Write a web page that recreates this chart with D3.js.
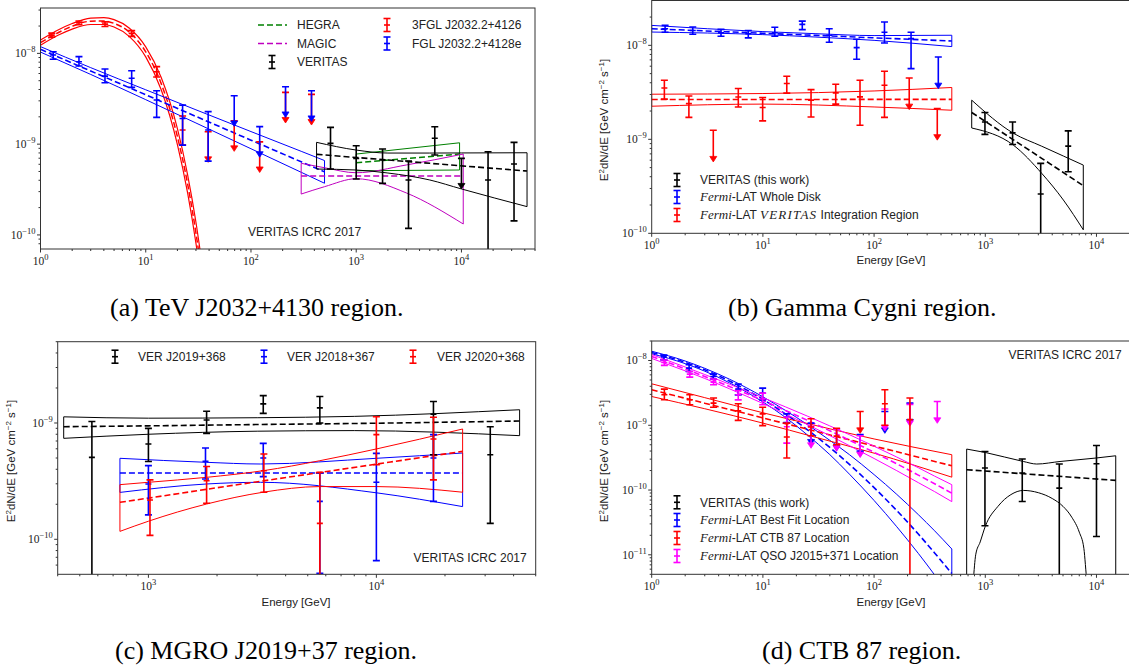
<!DOCTYPE html>
<html>
<head>
<meta charset="utf-8">
<script src="https://cdn.jsdelivr.net/npm/d3@7"></script>
<style>
    body { margin: 0; background: #ffffff; }
    svg  { display: block; }
    .tick_label { font-family: "Liberation Serif", "DejaVu Serif", serif; font-size: 11.5px; fill: #222; }
    .sans       { font-family: "Liberation Sans", Arial, sans-serif; fill: #222; }
    .caption    { font-family: "Liberation Serif", serif; font-size: 26px; fill: #000; }
</style>
</head>
<body>
<svg id="figure" width="1129" height="671"></svg>
<script>
// points are [energy GeV, E2dN/dE, low, high], upper limits are [energy, value]

// ---------- (a) TeV J2032+4130 region ----------
const a3fglPoints = [[1.28,1.59e-8,1.51e-8,1.67e-8],[2.32,2.17e-8,2.07e-8,2.27e-8],[4.1,2.10e-8,1.98e-8,2.22e-8],
                     [7.35,1.66e-8,1.54e-8,1.78e-8],[12.7,6.27e-9,5.5e-9,7.15e-9],[22.4,1.43e-9,9.8e-10,2.04e-9]];
const a3fglLimits = [[39.2,1.37e-9],[69.3,1.81e-9],[121,1.06e-9],[213,3.72e-9],[376,3.53e-9]];
const aFglPoints  = [[1.32,9.58e-9,8.6e-9,1.04e-8],[2.32,8.08e-9,7.25e-9,9.2e-9],[4.1,5.62e-9,4.74e-9,6.72e-9],
                     [7.35,5.31e-9,4.22e-9,6.43e-9],[12.7,3.06e-9,1.97e-9,3.88e-9],[22.4,1.92e-9,9.75e-10,2.69e-9],
                     [39.2,1.43e-9,6.5e-10,2.28e-9]];
const aFglLimits  = [[69.3,3.41e-9],[121,1.56e-9],[213,4.28e-9],[376,3.87e-9]];
const aVerPoints  = [[570,1.02e-9,5.32e-10,1.53e-9],[1000,6.98e-10,4.13e-10,9.6e-10],[1780,6.68e-10,3.7e-10,8.83e-10],
                     [3140,4.03e-10,1.18e-10,6.52e-10],[5580,1.16e-9,7.59e-10,1.556e-9],[17900,4.03e-10,1e-12,8.24e-10],
                     [31600,6.04e-10,1.43e-10,1.047e-9]];
const aVerLimits  = [[10000,6.98e-10]];

const a3fglBandE  = [1, 1.5, 2, 3, 4, 5, 7, 10, 14, 20, 25, 30, 35];
const a3fglHi     = [1.40e-8,1.83e-8,2.13e-8,2.44e-8,2.47e-8,2.35e-8,1.89e-8,1.18e-8,5.45e-9,1.48e-9,4.6e-10,1.38e-10,4.0e-11];
const a3fglMid    = [1.31e-8,1.71e-8,1.99e-8,2.26e-8,2.27e-8,2.14e-8,1.71e-8,1.04e-8,4.67e-9,1.21e-9,3.65e-10,1.05e-10,2.96e-11];
const a3fglLo     = [1.23e-8,1.60e-8,1.85e-8,2.08e-8,2.08e-8,1.95e-8,1.53e-8,9.15e-9,4.0e-9,9.9e-10,2.9e-10,8.1e-11,2.2e-11];
const aFglBandE   = [1, 3, 10, 30, 100, 300, 500];
const aFglHi      = [1.186e-8,6.96e-9,3.97e-9,2.39e-9,1.376e-9,8.34e-10,6.6e-10];
const aFglMid     = [1.107e-8,6.39e-9,3.50e-9,2.02e-9,1.107e-9,6.39e-10,4.95e-10];
const aFglLo      = [1.033e-8,5.86e-9,3.09e-9,1.71e-9,8.9e-10,4.9e-10,3.71e-10];
const aHegraE     = [1000, 9600];
const aHegraHi    = [7.78e-10,1.035e-9];
const aHegraMid   = [6.24e-10,7.78e-10];
const aHegraLo    = [5.09e-10,5.19e-10];
const aMagicE     = [300, 500, 1000, 3000, 10400];
const aMagicHi    = [6.15e-10,5.5e-10,4.84e-10,5.9e-10,7.78e-10];
const aMagicMid   = [4.46e-10,4.46e-10,4.46e-10,4.46e-10,4.46e-10];
const aMagicLo    = [2.82e-10,3.4e-10,4.16e-10,2.9e-10,1.32e-10];
const aVerBandE   = [420, 1000, 2000, 5000, 10000, 42000];
const aVerHi      = [1.047e-9,8.61e-10,7.98e-10,7.98e-10,8.0e-10,8.04e-10];
const aVerMid     = [7.73e-10,7.13e-10,6.7e-10,6.15e-10,5.77e-10,5.06e-10];
const aVerLo      = [5.32e-10,5.19e-10,4.81e-10,4.03e-10,3.21e-10,2.05e-10];

// ---------- (b) Gamma Cygni region ----------
const bDiskPoints  = [[1.32,1.50e-8,1.38e-8,1.63e-8],[2.34,1.44e-8,1.31e-8,1.57e-8],[4.2,1.36e-8,1.25e-8,1.48e-8],
                      [7.39,1.33e-8,1.2e-8,1.44e-8],[12.8,1.36e-8,1.25e-8,1.56e-8],[22.6,1.67e-8,1.47e-8,1.81e-8],
                      [39.5,1.28e-8,1.08e-8,1.5e-8],[69.7,9.46e-9,7.1e-9,1.16e-8],[124,1.38e-8,1.06e-8,1.77e-8],
                      [215,1.18e-8,5.65e-9,1.38e-8]];
const bDiskLimits  = [[378,7.52e-9]];
const bRegPoints   = [[1.3,3.52e-9,2.68e-9,4.25e-9],[2.16,2.4e-9,1.71e-9,2.89e-9],[6.01,2.82e-9,2.21e-9,3.47e-9],
                      [9.95,2.18e-9,1.57e-9,2.79e-9],[16.4,3.92e-9,3.1e-9,4.69e-9],[27.1,2.61e-9,1.73e-9,3.38e-9],
                      [45.2,3.12e-9,2.37e-9,3.86e-9],[74.7,2.83e-9,1.41e-9,4.25e-9],[124,3.76e-9,1.71e-9,5.31e-9]];
const bRegLimits   = [[3.58,1.25e-9],[207,4.5e-9],[370,2.13e-9]];
const bVerPoints   = [[993,1.53e-9,1.13e-9,1.93e-9],[1760,1.17e-9,8.8e-10,1.53e-9],[3150,2.62e-10,1e-12,5.55e-10],
                      [5570,8.47e-10,4.52e-10,1.23e-9]];

const bDiskBandE   = [1, 10, 30, 100, 500];
const bDiskHi      = [1.63e-8,1.40e-8,1.33e-8,1.27e-8,1.28e-8];
const bDiskMid     = [1.503e-8,1.344e-8,1.276e-8,1.202e-8,1.112e-8];
const bDiskLo      = [1.385e-8,1.30e-8,1.225e-8,1.13e-8,9.7e-9];
const bRegBandE    = [1, 10, 100, 500];
const bRegHi       = [3.02e-9,3.07e-9,3.27e-9,3.56e-9];
const bRegMid      = [2.65e-9,2.65e-9,2.66e-9,2.66e-9];
const bRegLo       = [2.25e-9,2.37e-9,2.21e-9,2.04e-9];
const bVerBandE    = [755, 1790, 3215, 5040, 7610];
const bVerHi       = [2.61e-9,1.16e-9,8.45e-10,6.64e-10,5.32e-10];
const bVerMid      = [1.93e-9,9.88e-10,6.28e-10,4.43e-10,3.21e-10];
const bVerLo       = [1.32e-9,8.67e-10,4.35e-10,2.26e-10,1.09e-10];

// ---------- (c) MGRO J2019+37 region ----------
const c2019Points  = [[565,5.06e-10,1e-12,1.03e-9],[1000,6.6e-10,4.66e-10,8.99e-10],[1800,1.06e-9,8.14e-10,1.26e-9],
                      [3190,1.46e-9,1.21e-9,1.72e-9],[5650,1.35e-9,1.0e-9,1.69e-9],[17800,1.19e-9,5.34e-10,1.53e-9],
                      [31600,5.34e-10,1.37e-10,9.29e-10]];
const c2018Points  = [[1000,2.99e-10,1.62e-10,4.3e-10],[1780,4.68e-10,3.3e-10,6.1e-10],[3190,5.0e-10,3.46e-10,6.68e-10],
                      [5650,2.12e-10,5.1e-11,3.72e-10],[10000,3.09e-10,6.56e-11,5.48e-10],[17800,5.0e-10,2.12e-10,7.94e-10]];
const c2020Points  = [[1016,2.18e-10,1.08e-10,3.24e-10],[1800,3.19e-10,2.04e-10,4.22e-10],[3210,3.89e-10,2.54e-10,5.42e-10],
                      [5650,1.37e-10,1e-12,3.76e-10],[10000,7.94e-10,4.38e-10,1.13e-9],[17800,7.29e-10,3.24e-10,1.12e-9]];

const c2019BandE   = [425, 1000, 3000, 8000, 42500];
const c2019Hi      = [1.13e-9,1.10e-9,1.11e-9,1.14e-9,1.30e-9];
const c2019Mid     = [9.29e-10,9.45e-10,9.7e-10,9.9e-10,1.04e-9];
const c2019Lo      = [7.38e-10,8.0e-10,8.5e-10,8.6e-10,7.78e-10];
const c2018BandE   = [750, 1800, 3100, 10000, 23900];
const c2018Hi      = [4.97e-10,4.59e-10,4.44e-10,4.97e-10,5.52e-10];
const c2018Mid     = [3.72e-10,3.72e-10,3.72e-10,3.72e-10,3.72e-10];
const c2018Lo      = [2.53e-10,2.99e-10,3.09e-10,2.51e-10,1.91e-10];
const c2020BandE   = [750, 1000, 1800, 3190, 5650, 10000, 23900];
const c2020Hi      = [2.95e-10,3.09e-10,3.41e-10,3.89e-10,4.74e-10,5.98e-10,8.88e-10];
const c2020Mid     = [2.08e-10,2.26e-10,2.69e-10,3.18e-10,3.75e-10,4.43e-10,5.7e-10];
const c2020Lo      = [1.17e-10,1.43e-10,2.01e-10,2.54e-10,2.84e-10,2.84e-10,2.54e-10];

// ---------- (d) CTB 87 region ----------
const dBestPoints  = [[1.29,1.13e-8,1.02e-8,1.21e-8],[2.17,7.63e-9,6.77e-9,8.6e-9],[3.58,5.66e-9,5.17e-9,6.15e-9],
                      [6.0,3.62e-9,2.95e-9,4.32e-9],[9.95,3.14e-9,2.47e-9,3.75e-9],[16.4,1.35e-9,1.1e-9,1.5e-9]];
const dBestLimits  = [[27.1,1.08e-9],[46,8.8e-10],[75,7.2e-10],[125,1.63e-9],[210,2.2e-9]];
const dCtbPoints   = [[1.3,2.96e-9,2.48e-9,3.62e-9],[2.2,2.48e-9,2.07e-9,2.96e-9],[3.6,2.2e-9,1.9e-9,2.63e-9],
                      [6.0,1.67e-9,1.19e-9,2.15e-9],[9.95,1.5e-9,9.86e-10,1.9e-9],[16.4,6.58e-10,3.12e-10,1.08e-9],
                      [27.1,9.4e-10,6.9e-10,1.26e-9],[46,6.8e-10,5.0e-10,9.0e-10],[125,2.15e-9,1.0e-9,3.53e-9],
                      [210,1.22e-9,1e-13,2.63e-9]];
const dCtbLimits   = [[75,1.63e-9]];
const dQsoPoints   = [[1.3,9.31e-9,8.4e-9,1.02e-8],[2.2,6.16e-9,5.54e-9,6.77e-9],[3.6,4.64e-9,4.22e-9,5.17e-9],
                      [6.0,2.96e-9,2.47e-9,3.44e-9],[9.95,2.54e-9,2.07e-9,3.14e-9],[16.4,9.5e-10,5.3e-10,1.34e-9]];
const dQsoLimits   = [[27.1,9.6e-10],[46,8.6e-10],[75,6.89e-10],[125,1.78e-9],[210,2.1e-9],[370,2.33e-9]];
const dVerPoints   = [[993,2.19e-10,2.81e-11,3.94e-10],[2150,1.83e-10,6.67e-11,3.01e-10],[4630,1.07e-10,1e-13,2.52e-10],
                      [10000,2.55e-10,1.92e-11,4.88e-10]];

const dFermiBandE  = [1, 2, 3, 5, 10, 16, 25, 40, 60, 100, 160, 250, 350, 500];
const dBestHi      = [1.39e-8,9.82e-9,7.57e-9,5.15e-9,2.75e-9,1.69e-9,1.03e-9,5.85e-10,3.52e-10,1.73e-10,8.57e-11,4.17e-11,2.35e-11,1.23e-11];
const dBestMid     = [1.33e-8,9.38e-9,7.19e-9,4.83e-9,2.51e-9,1.49e-9,8.59e-10,4.54e-10,2.49e-10,1.09e-10,4.82e-11,2.09e-11,1.07e-11,5.13e-12];
const dBestLo      = [1.27e-8,8.95e-9,6.84e-9,4.53e-9,2.29e-9,1.32e-9,7.14e-10,3.52e-10,1.76e-10,6.9e-11,2.71e-11,1.05e-11,4.9e-12,2.1e-12];
const dQsoHi       = [1.236e-8,7.94e-9,6.07e-9,4.31e-9,2.67e-9,1.92e-9,1.39e-9,9.77e-10,7.16e-10,4.75e-10,3.23e-10,2.21e-10,1.64e-10,1.21e-10];
const dQsoMid      = [1.153e-8,7.41e-9,5.66e-9,3.97e-9,2.41e-9,1.69e-9,1.20e-9,8.22e-10,5.89e-10,3.82e-10,2.54e-10,1.70e-10,1.25e-10,8.93e-11];
const dQsoLo       = [1.076e-8,6.92e-9,5.28e-9,3.66e-9,2.17e-9,1.49e-9,1.03e-9,6.92e-10,4.84e-10,3.07e-10,1.99e-10,1.30e-10,9.46e-11,6.62e-11];
const dCtbBandE    = [1, 3, 10, 30, 100, 500];
const dCtbHi       = [4.37e-9,2.67e-9,1.56e-9,9.9e-10,6.15e-10,3.51e-10];
const dCtbMid      = [3.53e-9,2.19e-9,1.30e-9,8.05e-10,4.78e-10,2.37e-10];
const dCtbLo       = [2.78e-9,1.80e-9,1.08e-9,6.5e-10,3.71e-10,1.58e-10];
const dVerHiE      = [680, 1000, 2200, 2900, 4700, 9900, 14900];
const dVerHi       = [4.29e-10,3.8e-10,2.76e-10,2.52e-10,2.76e-10,3.12e-10,3.38e-10];
const dVerMidE     = [680, 14900];
const dVerMid      = [2.06e-10,1.41e-10];
const dVerLoE      = [680, 780, 820, 900, 1000, 1300, 1700, 2200, 3000, 4000, 5000, 6000, 7000, 7700, 8200, 14900];
const dVerLo       = [1e-13,3.98e-12,1.0e-11,1.58e-11,2.75e-11,5.6e-11,8.5e-11,9.86e-11,9.1e-11,7.4e-11,5.6e-11,3.8e-11,2.24e-11,1.26e-11,3.98e-12,1e-13];

// colours
const BLUE = "#0000ff", RED = "#ff0000", GREEN = "#008000", PURPLE = "#bf00bf", PINK = "#ff00ff", BLACK = "#000000";
const UL_FACTOR = 0.46;

const svg  = d3.select("#figure");
const defs = svg.append("defs");
svg.append("rect").attr("width", 1129).attr("height", 671).attr("fill", "#fff");

function minorTicks(domain)
{
    const out = [];
    for (let n = Math.floor(Math.log10(domain[0])); n <= Math.ceil(Math.log10(domain[1])); n++)
        for (let k = 2; k <= 9; k++)
        {
            const v = k * Math.pow(10, n);
            if (v >= domain[0] && v <= domain[1]) out.push(v);
        }
    return out;
}

function powLabel(sel, e)
{
    sel.append("tspan").text("10");
    sel.append("tspan").attr("dy", -5).attr("font-size", 8.5).text(e < 0 ? "\u2212" + (-e) : String(e));
}

function setupPanel(cfg)
{
    const x = d3.scaleLog().domain(cfg.xDomain).range([cfg.left, cfg.right]);
    const y = d3.scaleLog().domain(cfg.yDomain).range([cfg.bottom, cfg.top]);
    const g = svg.append("g").attr("id", "panel_" + cfg.id);

    defs.append("clipPath").attr("id", "clip_" + cfg.id)
        .append("rect")
        .attr("x", cfg.left).attr("y", cfg.top)
        .attr("width", cfg.right - cfg.left).attr("height", cfg.bottom - cfg.top);

    const plot = g.append("g").attr("clip-path", `url(#clip_${cfg.id})`);
    return { cfg, x, y, g, plot };
}

function drawAxes(P, xMajor, yMajor)
{
    const c = P.cfg;
    const axisColor = "#333";

    // the following code is used to draw minor and major ticks
    [[minorTicks(c.xDomain), 2], [xMajor, 3.5]].forEach(([vals, len]) =>
    {
        const ax = P.g.append("g").attr("transform", `translate(0,${c.bottom})`)
            .call(d3.axisBottom(P.x).tickValues(vals).tickSize(len).tickFormat("").offset(0));
        ax.select(".domain").remove();
        ax.selectAll("line").attr("stroke", axisColor);
    });
    [[minorTicks(c.yDomain), 2], [yMajor, 3.5]].forEach(([vals, len]) =>
    {
        const ax = P.g.append("g").attr("transform", `translate(${c.left},0)`)
            .call(d3.axisLeft(P.y).tickValues(vals).tickSize(len).tickFormat("").offset(0));
        ax.select(".domain").remove();
        ax.selectAll("line").attr("stroke", axisColor);
    });

    // spines
    P.g.append("rect")
        .attr("x", c.left).attr("y", c.top)
        .attr("width", c.right - c.left).attr("height", c.bottom - c.top)
        .attr("fill", "none").attr("stroke", axisColor).attr("stroke-width", 1);

    // tick labels
    xMajor.forEach(v =>
    {
        const t = P.g.append("text").attr("class", "tick_label")
            .attr("x", P.x(v)).attr("y", c.bottom + 15.5).attr("text-anchor", "middle");
        powLabel(t, Math.round(Math.log10(v)));
    });
    yMajor.forEach(v =>
    {
        const t = P.g.append("text").attr("class", "tick_label")
            .attr("x", c.left - 5).attr("y", P.y(v) + 4).attr("text-anchor", "end");
        powLabel(t, Math.round(Math.log10(v)));
    });
}

function drawBand(P, band, color, lw, dashLw)
{
    const line = d3.line().x(d => P.x(d[0])).y(d => P.y(d[1])).curve(d3.curveMonotoneX);
    const hi   = d3.zip(band.eHi, band.hi);
    const lo   = d3.zip(band.eLo, band.lo);
    const mid  = d3.zip(band.eMid, band.mid);
    const g    = P.plot.append("g").attr("fill", "none").attr("stroke", color);

    g.append("path").attr("d", line(hi)).attr("stroke-width", lw);
    g.append("path").attr("d", line(lo)).attr("stroke-width", lw);
    g.append("path").attr("d", line(mid)).attr("stroke-width", dashLw).attr("stroke-dasharray", "6,3");

    // closing edges of the butterfly
    [[hi[0], lo[0]], [hi[hi.length - 1], lo[lo.length - 1]]].forEach(([a, b]) =>
    {
        g.append("line")
            .attr("x1", P.x(a[0])).attr("x2", P.x(b[0]))
            .attr("y1", P.y(a[1])).attr("y2", P.y(b[1]))
            .attr("stroke-width", lw);
    });
}

function drawErrorBars(P, pts, color)
{
    const g  = P.plot.append("g").attr("stroke", color).attr("stroke-width", 1.6);
    const cw = 3.5;

    g.selectAll(".bar").data(pts).join("line").attr("class", "bar")
        .attr("x1", d => P.x(d[0])).attr("x2", d => P.x(d[0]))
        .attr("y1", d => P.y(d[2])).attr("y2", d => P.y(d[3]));

    g.selectAll(".cap").data(pts.flatMap(d => [[d[0], d[2]], [d[0], d[3]]])).join("line").attr("class", "cap")
        .attr("x1", d => P.x(d[0]) - cw).attr("x2", d => P.x(d[0]) + cw)
        .attr("y1", d => P.y(d[1])).attr("y2", d => P.y(d[1]));

    g.selectAll(".mark").data(pts).join("line").attr("class", "mark")
        .attr("x1", d => P.x(d[0]) - 3).attr("x2", d => P.x(d[0]) + 3)
        .attr("y1", d => P.y(d[1])).attr("y2", d => P.y(d[1]));
}

function drawLimits(P, uls, color)
{
    const g = P.plot.append("g").attr("stroke", color).attr("fill", color).attr("stroke-width", 1.6);

    g.selectAll(".ul").data(uls).join("line").attr("class", "ul")
        .attr("x1", d => P.x(d[0])).attr("x2", d => P.x(d[0]))
        .attr("y1", d => P.y(d[1])).attr("y2", d => P.y(d[1] * UL_FACTOR) - 3);

    g.selectAll(".cap").data(uls).join("line").attr("class", "cap")
        .attr("x1", d => P.x(d[0]) - 3.5).attr("x2", d => P.x(d[0]) + 3.5)
        .attr("y1", d => P.y(d[1])).attr("y2", d => P.y(d[1]));

    g.selectAll(".head").data(uls).join("path").attr("class", "head")
        .attr("stroke-width", 0.8)
        .attr("d", d =>
        {
            const cx = P.x(d[0]), tip = P.y(d[1] * UL_FACTOR);
            return `M${cx - 3.5},${tip - 5.5}L${cx + 3.5},${tip - 5.5}L${cx},${tip}Z`;
        });
}

function legendErrorBar(g, cx, cy, color)
{
    const h = g.append("g").attr("stroke", color).attr("stroke-width", 1.6);
    h.append("line").attr("x1", cx).attr("x2", cx).attr("y1", cy - 6.5).attr("y2", cy + 6.5);
    [cy - 6.5, cy + 6.5].forEach(yy => h.append("line").attr("x1", cx - 3.5).attr("x2", cx + 3.5).attr("y1", yy).attr("y2", yy));
    h.append("line").attr("x1", cx - 3).attr("x2", cx + 3).attr("y1", cy).attr("y2", cy);
}

function legendDash(g, x0, x1, cy, color)
{
    g.append("line").attr("x1", x0).attr("x2", x1).attr("y1", cy).attr("y2", cy)
        .attr("stroke", color).attr("stroke-width", 1.6).attr("stroke-dasharray", "6,3");
}

function legendText(g, x, cy, parts)
{
    const t = g.append("text").attr("class", "sans").attr("font-size", 12).attr("x", x).attr("y", cy + 4.3);
    parts.forEach(p =>
    {
        const s = t.append("tspan").text(p.t);
        if (p.it)
        {
            s.attr("font-family", "'Liberation Serif', serif").attr("font-style", "italic").attr("font-size", 13);
            if (p.spaced) s.attr("letter-spacing", 1.2);
        }
    });
}

function yLabel(x, cy)
{
    const t = svg.append("text").attr("class", "sans").attr("font-size", 11.5)
        .attr("transform", `translate(${x},${cy}) rotate(-90)`).attr("text-anchor", "middle");
    t.append("tspan").text("E");
    t.append("tspan").attr("dy", -4).attr("font-size", 8).text("2");
    t.append("tspan").attr("dy", 4).text("dN/dE [GeV cm");
    t.append("tspan").attr("dy", -4).attr("font-size", 8).text("\u22122");
    t.append("tspan").attr("dy", 4).text(" s");
    t.append("tspan").attr("dy", -4).attr("font-size", 8).text("\u22121");
    t.append("tspan").attr("dy", 4).text("]");
}

function xLabel(cx, y)
{
    svg.append("text").attr("class", "sans").attr("font-size", 11.5)
        .attr("x", cx).attr("y", y).attr("text-anchor", "middle").text("Energy [GeV]");
}

const band = (eHi, hi, eMid, mid, eLo, lo) => ({ eHi, hi, eMid, mid, eLo, lo });

// ================= panel (a) =================
const PA = setupPanel({ id: "a", left: 40.5, right: 535, top: 8, bottom: 249, xDomain: [1, 5e4], yDomain: [7e-11, 3.16e-8] });
drawBand(PA, band(a3fglBandE, a3fglHi, a3fglBandE, a3fglMid, a3fglBandE, a3fglLo), RED, 1.2, 1.5);
drawBand(PA, band(aFglBandE, aFglHi, aFglBandE, aFglMid, aFglBandE, aFglLo), BLUE, 1, 1.6);
drawBand(PA, band(aHegraE, aHegraHi, aHegraE, aHegraMid, aHegraE, aHegraLo), GREEN, 1, 1.6);
drawBand(PA, band(aMagicE, aMagicHi, aMagicE, aMagicMid, aMagicE, aMagicLo), PURPLE, 1, 1.6);
drawBand(PA, band(aVerBandE, aVerHi, aVerBandE, aVerMid, aVerBandE, aVerLo), BLACK, 1, 1.6);
drawErrorBars(PA, a3fglPoints, RED);
drawLimits(PA, a3fglLimits, RED);
drawErrorBars(PA, aFglPoints, BLUE);
drawLimits(PA, aFglLimits, BLUE);
drawErrorBars(PA, aVerPoints, BLACK);
drawLimits(PA, aVerLimits, BLACK);
drawAxes(PA, [1, 10, 100, 1e3, 1e4], [1e-10, 1e-9, 1e-8]);

const legA = svg.append("g");
legendDash(legA, 258, 287, 25, GREEN);   legendText(legA, 297, 25, [{ t: "HEGRA" }]);
legendDash(legA, 258, 287, 43.5, PURPLE); legendText(legA, 297, 43.5, [{ t: "MAGIC" }]);
legendErrorBar(legA, 272, 62, BLACK);     legendText(legA, 297, 62, [{ t: "VERITAS" }]);
legendErrorBar(legA, 387, 25, RED);       legendText(legA, 412, 25, [{ t: "3FGL  J2032.2+4126" }]);
legendErrorBar(legA, 387, 43.5, BLUE);    legendText(legA, 412, 43.5, [{ t: "FGL  J2032.2+4128e" }]);
svg.append("text").attr("class", "sans").attr("font-size", 12).attr("x", 248).attr("y", 235.5).text("VERITAS ICRC 2017");

// ================= panel (b) =================
const PB = setupPanel({ id: "b", left: 651.7, right: 1174.2, top: 0.5, bottom: 233.3, xDomain: [1, 5e4], yDomain: [1e-10, 3e-8] });
drawBand(PB, band(bDiskBandE, bDiskHi, bDiskBandE, bDiskMid, bDiskBandE, bDiskLo), BLUE, 1, 1.6);
drawBand(PB, band(bRegBandE, bRegHi, bRegBandE, bRegMid, bRegBandE, bRegLo), RED, 1, 1.6);
drawBand(PB, band(bVerBandE, bVerHi, bVerBandE, bVerMid, bVerBandE, bVerLo), BLACK, 1, 1.6);
drawErrorBars(PB, bDiskPoints, BLUE);
drawLimits(PB, bDiskLimits, BLUE);
drawErrorBars(PB, bRegPoints, RED);
drawLimits(PB, bRegLimits, RED);
drawErrorBars(PB, bVerPoints, BLACK);
drawAxes(PB, [1, 10, 100, 1e3, 1e4], [1e-10, 1e-9, 1e-8]);

const legB = svg.append("g");
legendErrorBar(legB, 677, 180, BLACK);  legendText(legB, 700, 180, [{ t: "VERITAS (this work)" }]);
legendErrorBar(legB, 677, 197, BLUE);   legendText(legB, 700, 197, [{ t: "Fermi", it: true }, { t: "-LAT Whole Disk" }]);
legendErrorBar(legB, 677, 215, RED);    legendText(legB, 700, 215, [{ t: "Fermi", it: true }, { t: "-LAT " }, { t: "VERITAS", it: true, spaced: true }, { t: " Integration Region" }]);
xLabel(891, 264);
yLabel(607.5, 120);

// ================= panel (c) =================
const PC = setupPanel({ id: "c", left: 57.7, right: 535.7, top: 341.7, bottom: 574.3, xDomain: [400, 5e4], yDomain: [5e-11, 5e-9] });
drawBand(PC, band(c2019BandE, c2019Hi, c2019BandE, c2019Mid, c2019BandE, c2019Lo), BLACK, 1, 1.6);
drawBand(PC, band(c2018BandE, c2018Hi, c2018BandE, c2018Mid, c2018BandE, c2018Lo), BLUE, 1, 1.6);
drawBand(PC, band(c2020BandE, c2020Hi, c2020BandE, c2020Mid, c2020BandE, c2020Lo), RED, 1, 1.6);
drawErrorBars(PC, c2019Points, BLACK);
drawErrorBars(PC, c2018Points, BLUE);
drawErrorBars(PC, c2020Points, RED);
drawAxes(PC, [1e3, 1e4], [1e-10, 1e-9]);

const legC = svg.append("g");
legendErrorBar(legC, 115, 356.7, BLACK);  legendText(legC, 138, 356.7, [{ t: "VER  J2019+368" }]);
legendErrorBar(legC, 264, 356.7, BLUE);   legendText(legC, 287, 356.7, [{ t: "VER  J2018+367" }]);
legendErrorBar(legC, 413, 356.7, RED);    legendText(legC, 437, 356.7, [{ t: "VER  J2020+368" }]);
svg.append("text").attr("class", "sans").attr("font-size", 12).attr("x", 526.7).attr("y", 562).attr("text-anchor", "end").text("VERITAS ICRC 2017");
xLabel(296, 605.5);
yLabel(14.5, 461);

// ================= panel (d) =================
const PD = setupPanel({ id: "d", left: 651.7, right: 1174.2, top: 341, bottom: 574.3, xDomain: [1, 5e4], yDomain: [5e-12, 2e-8] });
drawBand(PD, band(dFermiBandE, dBestHi, dFermiBandE, dBestMid, dFermiBandE, dBestLo), BLUE, 1, 1.6);
drawBand(PD, band(dCtbBandE, dCtbHi, dCtbBandE, dCtbMid, dCtbBandE, dCtbLo), RED, 1, 1.6);
drawBand(PD, band(dFermiBandE, dQsoHi, dFermiBandE, dQsoMid, dFermiBandE, dQsoLo), PINK, 1, 1.6);
drawBand(PD, band(dVerHiE, dVerHi, dVerMidE, dVerMid, dVerLoE, dVerLo), BLACK, 1, 1.6);
drawErrorBars(PD, dBestPoints, BLUE);
drawLimits(PD, dBestLimits, BLUE);
drawErrorBars(PD, dQsoPoints, PINK);
drawLimits(PD, dQsoLimits, PINK);
drawErrorBars(PD, dCtbPoints, RED);
drawLimits(PD, dCtbLimits, RED);
drawErrorBars(PD, dVerPoints, BLACK);
drawAxes(PD, [1, 10, 100, 1e3, 1e4], [1e-11, 1e-10, 1e-9, 1e-8]);

const legD = svg.append("g");
legendErrorBar(legD, 677, 502.3, BLACK); legendText(legD, 700, 502.3, [{ t: "VERITAS (this work)" }]);
legendErrorBar(legD, 677, 520, BLUE);    legendText(legD, 700, 520, [{ t: "Fermi", it: true }, { t: "-LAT Best Fit Location" }]);
legendErrorBar(legD, 677, 538, RED);     legendText(legD, 700, 538, [{ t: "Fermi", it: true }, { t: "-LAT CTB 87 Location" }]);
legendErrorBar(legD, 677, 556, PINK);    legendText(legD, 700, 556, [{ t: "Fermi", it: true }, { t: "-LAT QSO J2015+371 Location" }]);
svg.append("text").attr("class", "sans").attr("font-size", 12).attr("x", 1121.7).attr("y", 359).attr("text-anchor", "end").text("VERITAS ICRC 2017");
xLabel(891, 605.5);
yLabel(607.5, 461);

// ================= captions =================
svg.append("text").attr("class", "caption").attr("x", 110).attr("y", 316).text("(a) TeV J2032+4130 region.");
svg.append("text").attr("class", "caption").attr("x", 728).attr("y", 316).text("(b) Gamma Cygni region.");
svg.append("text").attr("class", "caption").attr("x", 115).attr("y", 659).text("(c) MGRO J2019+37 region.");
svg.append("text").attr("class", "caption").attr("x", 762).attr("y", 659).text("(d) CTB 87 region.");
</script>
</body>
</html>
